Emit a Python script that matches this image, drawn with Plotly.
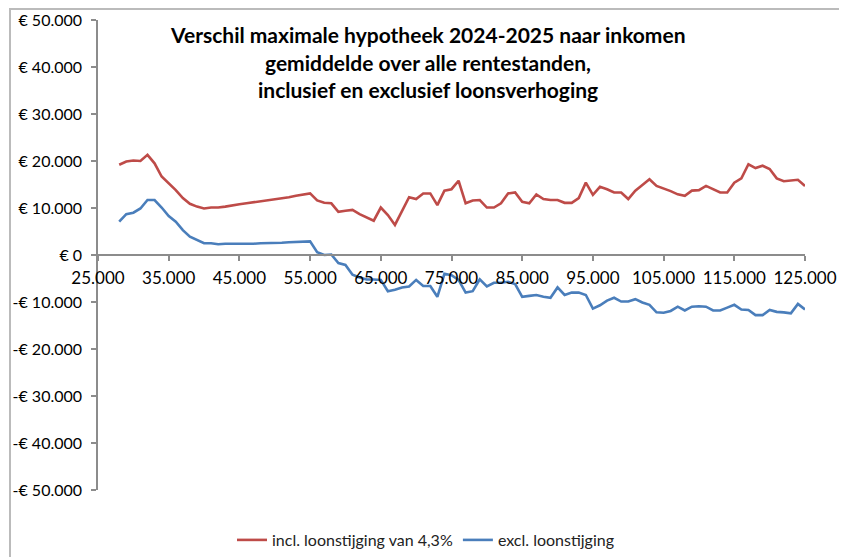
import plotly.graph_objects as go

incomes = list(range(28000, 126000, 1000))

incl_loonstijging = [
    19200, 19900, 20100, 20000, 21300, 19500, 16700, 15300, 13800, 12100,
    10900, 10300, 9900, 10100, 10100, 10300, 10600, 10800, 11000, 11200,
    11500, 11700, 11900, 12100, 12300, 12600, 12800, 13100, 11600, 11100,
    11000, 9200, 9400, 9600, 8700, 8000, 7300, 10100, 8500, 6400,
    9200, 12300, 11900, 13100, 13100, 10600, 13700, 14000, 15800, 11000,
    11600, 11700, 10100, 10100, 11000, 13100, 13300, 11300, 11000, 12900,
    11900, 11700, 11700, 11100, 11100, 12100, 15400, 12800, 14500, 14000,
    13300, 13300, 11900, 13700, 14900, 16100, 14700, 14200, 13600, 12900,
    12600, 13700, 13800, 14700, 14000, 13300, 13300, 15400, 16300, 19300,
    18500, 19000, 18300, 16300, 15700, 15800, 16000, 14700,
]

excl_loonstijging = [
    7100, 8700, 9000, 9900, 11700, 11700, 10100, 8300, 7100, 5300,
    3900, 3200, 2500, 2500, 2300, 2400, 2400, 2300, 2400, 2400,
    2500, 2500, 2600, 2600, 2700, 2800, 2800, 2900, 600, 0,
    100, -1700, -2100, -4200, -4800, -5200, -5200, -5300, -7700, -7400,
    -6900, -6700, -5300, -6600, -6600, -8900, -4000, -4300, -5300, -8000,
    -7700, -5200, -6700, -5900, -5900, -5700, -6200, -8900, -8700, -8500,
    -8900, -9100, -6900, -8500, -8000, -8000, -8500, -11400, -10700, -9700,
    -9100, -9900, -9900, -9400, -10100, -10600, -12200, -12300, -11900, -11000,
    -11800, -11000, -10900, -11000, -11800, -11800, -11200, -10600, -11600, -11700,
    -12800, -12800, -11700, -12100, -12200, -12400, -10400, -11600,
]

x_tickvals = [25000, 35000, 45000, 55000, 65000, 75000, 85000, 95000, 105000, 115000, 125000]
x_ticktext = ["25.000", "35.000", "45.000", "55.000", "65.000", "75.000", "85.000",
              "95.000", "105.000", "115.000", "125.000"]
y_tickvals = [50000, 40000, 30000, 20000, 10000, 0, -10000, -20000, -30000, -40000, -50000]
y_ticktext = ["€ 50.000", "€ 40.000", "€ 30.000", "€ 20.000", "€ 10.000", "€ 0",
              "-€ 10.000", "-€ 20.000", "-€ 30.000", "-€ 40.000", "-€ 50.000"]

title_lines = [
    "Verschil maximale hypotheek 2024-2025 naar inkomen",
    "gemiddelde over alle rentestanden,",
    "inclusief en exclusief loonsverhoging",
]

FONT = "Lato"
OFF = 8  # default page body margin
W, H = 847 - OFF, 557 - OFF
# plot area in screen pixels: x 98..805, y 20..490
L, R = 98 - OFF, W - (805 - OFF)
T, B = 20 - OFF, H - (490 - OFF)
PW, PH = W - L - R, H - T - B

def px_to_paper_x(sx):
    return (sx - OFF - L) / PW

def px_to_paper_y(sy):
    return (H - B - (sy - OFF)) / PH

fig = go.Figure()
fig.add_trace(go.Scatter(
    x=incomes, y=incl_loonstijging, mode="lines",
    name="incl. loonstijging van 4,3%",
    line=dict(color="#BE4B48", width=2.6),
))
fig.add_trace(go.Scatter(
    x=incomes, y=excl_loonstijging, mode="lines",
    name="excl. loonstijging",
    line=dict(color="#4A7EBB", width=2.6),
))

annotations = []
for line, cy in zip(title_lines, [35, 62, 89]):
    annotations.append(dict(
        text="<b>" + line + "</b>", xref="paper", yref="paper",
        x=px_to_paper_x(428), y=px_to_paper_y(cy),
        xanchor="center", yanchor="middle", showarrow=False,
        font=dict(family=FONT, size=21, color="#000000"),
    ))

fig.update_layout(
    width=W, height=H,
    margin=dict(l=L, r=R, t=T, b=B, autoexpand=False),
    paper_bgcolor="white", plot_bgcolor="white",
    font=dict(family=FONT, size=15, color="#000000"),
    showlegend=True,
    legend=dict(
        orientation="h", x=px_to_paper_x(426), xanchor="center",
        y=px_to_paper_y(540), yanchor="middle",
        font=dict(family=FONT, size=16, color="#222222"),
        itemwidth=30, tracegroupgap=0,
    ),
    annotations=annotations,
    shapes=[dict(
        type="rect", xref="paper", yref="paper",
        x0=px_to_paper_x(10), x1=px_to_paper_x(841),
        y0=px_to_paper_y(565), y1=px_to_paper_y(9),
        line=dict(color="#BBBBBB", width=2), fillcolor="rgba(0,0,0,0)",
        layer="below",
    )],
    xaxis=dict(
        range=[25000, 125000], showgrid=False, zeroline=False,
        showline=True, linecolor="#8C8C8C", linewidth=1.5,
        anchor="free", position=0.5,
        ticks="outside", ticklen=5, tickcolor="#8C8C8C", tickwidth=1.5,
        tickvals=x_tickvals, ticktext=x_ticktext,
        tickfont=dict(family=FONT, size=17, color="#000000"),
        ticklabelstandoff=3,
    ),
    yaxis=dict(
        range=[-50000, 50000], showgrid=False, zeroline=False,
        showline=True, linecolor="#8C8C8C", linewidth=1.5,
        ticks="outside", ticklen=5, tickcolor="#8C8C8C", tickwidth=1.5,
        tickvals=y_tickvals, ticktext=y_ticktext,
        tickfont=dict(family=FONT, size=16, color="#000000"),
        ticklabelstandoff=6,
    ),
)

fig.write_html("out.html")
